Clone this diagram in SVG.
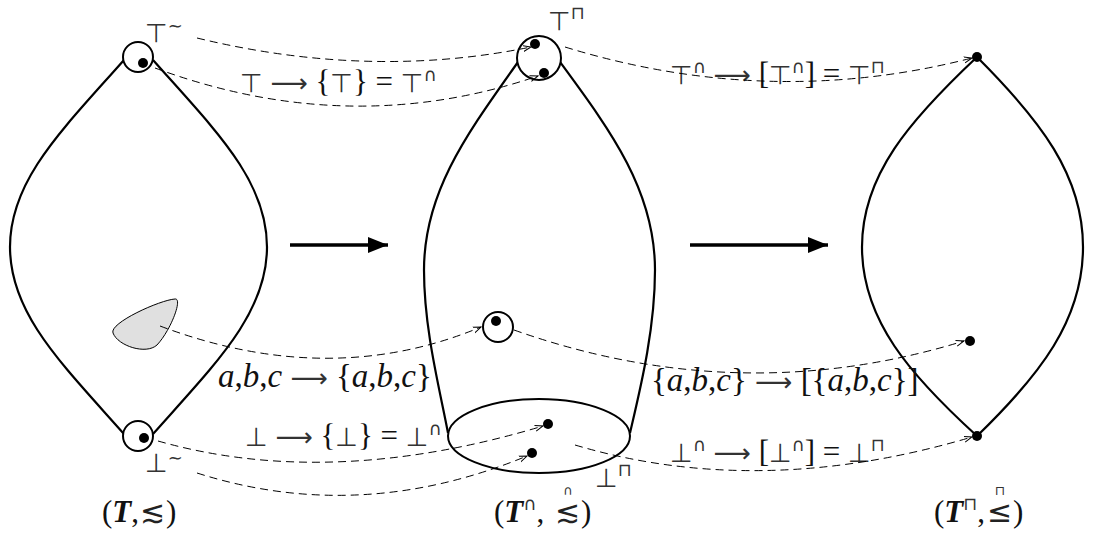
<svg xmlns="http://www.w3.org/2000/svg" width="1093" height="536" viewBox="0 0 1093 536">
<style>
.sh{fill:none;stroke:#000;stroke-width:2.2}
.ci{fill:#fff;stroke:#000;stroke-width:2}
.dot{fill:#000}
.dl{fill:none;stroke:#000;stroke-width:1;stroke-dasharray:8 5}
.big{fill:none;stroke:#000;stroke-width:3.5}
.m{font-family:"Liberation Serif","DejaVu Serif",serif;font-size:31px;fill:#111}
.ab{font-size:33px}
.i{font-style:italic}
.s{font-family:"DejaVu Sans",sans-serif;font-size:26px;fill:#333}
.rel{font-family:"DejaVu Sans",sans-serif;font-size:30px;fill:#222}
.sup{font-family:"DejaVu Sans",sans-serif;font-size:18px;fill:#333}
.sm{font-family:"DejaVu Sans",sans-serif;font-size:13px;fill:#333}
.b{font-style:italic;font-weight:bold}
</style>
<defs>
<marker id="oa" markerWidth="10" markerHeight="8" refX="8" refY="4" orient="auto" markerUnits="userSpaceOnUse">
<path d="M0,1 L8,4 L0,7" fill="none" stroke="#000" stroke-width="1"/>
</marker>
<marker id="fa" markerWidth="22" markerHeight="18" refX="20" refY="9" orient="auto" markerUnits="userSpaceOnUse">
<path d="M0,1 L20,9 L0,17 Z" fill="#000"/>
</marker>
</defs>

<g id="left-lens">
<path class="sh" d="M124,60 C62,130 10,180 10,247 C10,314 62,364 124,434"/>
<path class="sh" d="M153,60 C215,130 267,180 267,247 C267,314 215,364 153,434"/>
<circle class="ci" cx="138" cy="57" r="15"/>
<circle class="dot" cx="143" cy="63" r="5"/>
<circle class="ci" cx="138" cy="436" r="15"/>
<circle class="dot" cx="144" cy="438" r="5"/>
<path d="M113,333 C109,323 160,300 175,299 C183,298 171,330 157,345 C146,355 118,346 113,333 Z" fill="#e0e0e0" stroke="#000" stroke-width="1"/>
<text class="m" x="145" y="42"><tspan class="s">⊤</tspan><tspan class="sup" dy="-10">∼</tspan></text>
<text class="m" x="145" y="472"><tspan class="s">⊥</tspan><tspan class="sup" dy="-8">∼</tspan></text>
</g>

<g id="middle-shape">
<path class="sh" d="M518,62 C470,130 424,190 424,270 C424,330 440,390 448,433"/>
<path class="sh" d="M560,62 C610,130 655,190 655,270 C655,330 640,390 630,433"/>
<ellipse class="ci" cx="539" cy="436" rx="91" ry="37"/>
<circle class="ci" cx="539" cy="58" r="22"/>
<circle class="dot" cx="535" cy="44" r="5"/>
<circle class="dot" cx="544" cy="73" r="5"/>
<circle class="ci" cx="498" cy="327" r="15"/>
<circle class="dot" cx="496" cy="321" r="5"/>
<circle class="dot" cx="548" cy="424" r="5"/>
<circle class="dot" cx="532" cy="453" r="5"/>
<text class="m" x="548" y="30"><tspan class="s">⊤</tspan><tspan class="sup" dy="-11">⊓</tspan></text>
<text class="m" x="595" y="487"><tspan class="s">⊥</tspan><tspan class="sup" dy="-11">⊓</tspan></text>
</g>

<g id="right-lens">
<path class="sh" d="M977,57 C910,120 862,175 862,247 C862,320 910,375 977,436"/>
<path class="sh" d="M977,57 C1040,120 1083,175 1083,247 C1083,320 1040,375 977,436"/>
<circle class="dot" cx="977" cy="57" r="5"/>
<circle class="dot" cx="977" cy="436" r="5"/>
<circle class="dot" cx="970" cy="341" r="5"/>
</g>

<g id="labels">
<text class="m" x="240" y="92"><tspan class="s">⊤</tspan> <tspan class="s">⟶</tspan> {<tspan class="s">⊤</tspan>} = <tspan class="s">⊤</tspan><tspan class="sup" dy="-11">∩</tspan></text>
<text class="m" x="670" y="84"><tspan class="s">⊤</tspan><tspan class="sup" dy="-11">∩</tspan><tspan dy="11"> </tspan><tspan class="s">⟶</tspan> [<tspan class="s">⊤</tspan><tspan class="sup" dy="-11">∩</tspan><tspan dy="11">] = </tspan><tspan class="s">⊤</tspan><tspan class="sup" dy="-11">⊓</tspan></text>
<text class="m ab" x="218" y="387"><tspan class="i">a</tspan>,<tspan class="i">b</tspan>,<tspan class="i">c</tspan> <tspan class="s">⟶</tspan> {<tspan class="i">a</tspan>,<tspan class="i">b</tspan>,<tspan class="i">c</tspan>}</text>
<text class="m ab" x="651" y="391">{<tspan class="i">a</tspan>,<tspan class="i">b</tspan>,<tspan class="i">c</tspan>} <tspan class="s">⟶</tspan> [{<tspan class="i">a</tspan>,<tspan class="i">b</tspan>,<tspan class="i">c</tspan>}]</text>
<text class="m" x="245" y="446"><tspan class="s">⊥</tspan> <tspan class="s">⟶</tspan> {<tspan class="s">⊥</tspan>} = <tspan class="s">⊥</tspan><tspan class="sup" dy="-11">∩</tspan></text>
<text class="m" x="670" y="462"><tspan class="s">⊥</tspan><tspan class="sup" dy="-11">∩</tspan><tspan dy="11"> </tspan><tspan class="s">⟶</tspan> [<tspan class="s">⊥</tspan><tspan class="sup" dy="-11">∩</tspan><tspan dy="11">] = </tspan><tspan class="s">⊥</tspan><tspan class="sup" dy="-11">⊓</tspan></text>
<text class="m" x="102" y="522">(<tspan class="b">T</tspan>,<tspan class="rel" x="140">≲</tspan><tspan x="166">)</tspan></text>
<text class="m" x="494" y="522">(<tspan class="b">T</tspan><tspan class="sup" dy="-12">∩</tspan><tspan dy="12">,</tspan><tspan class="rel" x="555">≲</tspan><tspan class="sm" x="563" dy="-27">∩</tspan><tspan x="581" dy="27">)</tspan></text>
<text class="m" x="934" y="522">(<tspan class="b">T</tspan><tspan class="sup" dy="-12">⊓</tspan><tspan dy="12">,</tspan><tspan class="rel" x="987">≤</tspan><tspan class="sm" x="995" dy="-27">⊓</tspan><tspan x="1013" dy="27">)</tspan></text>
</g>

<g id="connectors">
<line class="big" x1="290" y1="245" x2="388" y2="245" marker-end="url(#fa)"/>
<line class="big" x1="690" y1="245" x2="828" y2="245" marker-end="url(#fa)"/>
<path class="dl" d="M197,38 Q370,80 531,47" marker-end="url(#oa)"/>
<path class="dl" d="M155,68 Q350,140 538,76" marker-end="url(#oa)"/>
<path class="dl" d="M565,47 Q770,110 972,58" marker-end="url(#oa)"/>
<path class="dl" d="M160,326 Q330,390 481,327" marker-end="url(#oa)"/>
<path class="dl" d="M514,330 Q740,410 964,341" marker-end="url(#oa)"/>
<path class="dl" d="M158,441 Q330,490 543,426" marker-end="url(#oa)"/>
<path class="dl" d="M197,473 Q360,525 527,456" marker-end="url(#oa)"/>
<path class="dl" d="M575,445 Q760,500 972,437" marker-end="url(#oa)"/>
</g>
</svg>
